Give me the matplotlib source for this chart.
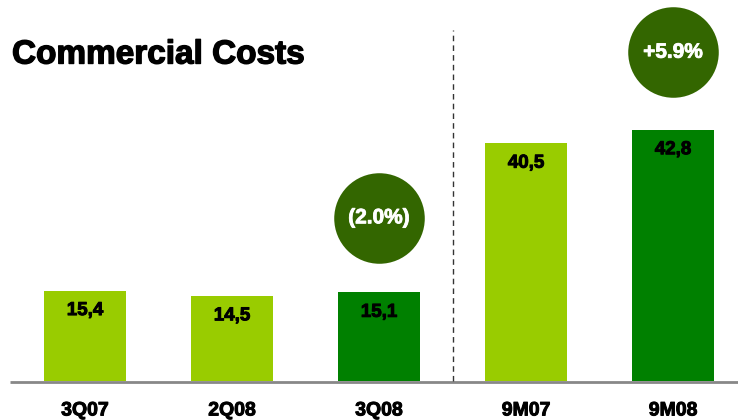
import matplotlib
matplotlib.use("Agg")
import matplotlib.pyplot as plt
import matplotlib.patheffects as pe

categories = ["3Q07", "2Q08", "3Q08", "9M07", "9M08"]
values = [15.4, 14.5, 15.1, 40.5, 42.8]
value_labels = ["15,4", "14,5", "15,1", "40,5", "42,8"]
bar_colors = ["#99cc00", "#99cc00", "#008000", "#99cc00", "#008000"]
badges = ["(2.0%)", "+5.9%"]
badge_pos = [(2, 27.8), (4, 56.0)]

plt.rcParams['font.family'] = ['Liberation Sans', 'DejaVu Sans']

fig = plt.figure(figsize=(7.38, 4.2), dpi=100)
ax = fig.add_axes([0, 0, 1, 1])
ax.set_xlim(-0.578, 4.442)
ax.set_ylim(-6.64, 64.9)
ax.axis('off')

heavy = [pe.withStroke(linewidth=0.7, foreground='black')]
heavy_w = [pe.withStroke(linewidth=0.6, foreground='white')]

x = list(range(len(categories)))
ax.bar(x, values, width=0.56, color=bar_colors, zorder=2)

for i, (v, lab) in enumerate(zip(values, value_labels)):
    ax.text(i, v - 3.4, lab, ha='center', va='center', fontsize=13.5,
            fontweight='bold', color='black', zorder=3, path_effects=heavy)
    ax.text(i, -5.1, categories[i], ha='center', va='center', fontsize=14,
            fontweight='bold', color='black', path_effects=heavy)

# baseline
ax.plot([-0.51, 4.442], [-0.25, -0.25], color='#888888', lw=2, zorder=1,
        solid_capstyle='butt')

# separator between quarters and nine months
ax.plot([2.5, 2.5], [0, 59.8], color='#333333', lw=1, ls=(0, (4, 3)))

for txt, (bx, by) in zip(badges, badge_pos):
    ax.scatter([bx], [by], s=4250, color='#336600', zorder=4, linewidths=0)
    ax.text(bx, by, txt, ha='center', va='center', fontsize=15,
            fontweight='bold', color='white', zorder=5, path_effects=heavy_w)

fig.text(12 / 738, 1 - 55 / 420, "Commercial Costs", ha='left', va='center',
         fontsize=24, fontweight='bold', color='black',
         path_effects=[pe.withStroke(linewidth=1.0, foreground='black')])

fig.savefig("out.png", dpi=100)
